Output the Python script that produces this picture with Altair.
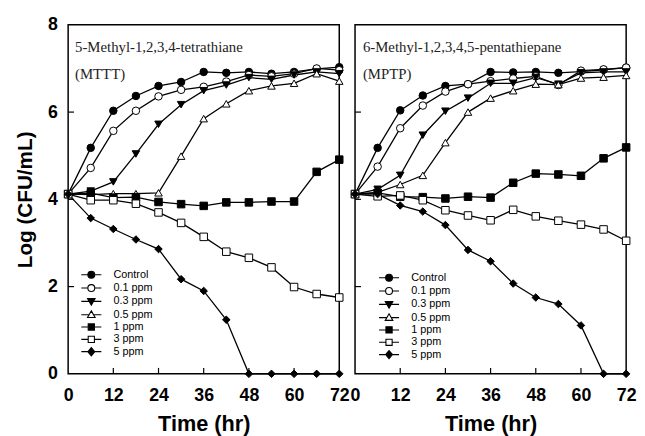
import altair as alt
import pandas as pd

times = [0, 6, 12, 18, 24, 30, 36, 42, 48, 54, 60, 66, 72]
series_names = ["Control", "0.1 ppm", "0.3 ppm", "0.5 ppm", "1 ppm", "3 ppm", "5 ppm"]

# Left panel: MTTT
mttt_control = [4.12, 5.18, 6.03, 6.37, 6.60, 6.69, 6.92, 6.90, 6.92, 6.88, 6.92, 6.99, 7.03]
mttt_01 = [4.12, 4.72, 5.57, 6.03, 6.36, 6.51, 6.58, 6.70, 6.85, 6.82, 6.88, 7.00, 6.96]
mttt_03 = [4.12, 4.19, 4.40, 5.04, 5.72, 6.17, 6.49, 6.62, 6.79, 6.75, 6.85, 6.92, 6.88]
mttt_05 = [4.12, 4.11, 4.13, 4.13, 4.15, 4.99, 5.85, 6.19, 6.49, 6.60, 6.66, 6.88, 6.71]
mttt_1 = [4.12, 4.14, 4.04, 4.05, 3.94, 3.89, 3.85, 3.93, 3.93, 3.95, 3.95, 4.63, 4.91]
mttt_3 = [4.12, 3.98, 3.98, 3.90, 3.70, 3.46, 3.14, 2.80, 2.66, 2.44, 1.99, 1.83, 1.75]
mttt_5 = [4.12, 3.57, 3.32, 3.08, 2.86, 2.17, 1.90, 1.24, 0.0, 0.0, 0.0, 0.0, 0.0]

# Right panel: MPTP
mptp_control = [4.12, 5.18, 6.04, 6.38, 6.60, 6.64, 6.92, 6.91, 6.92, 6.90, 6.93, 6.97, 7.02]
mptp_01 = [4.12, 4.75, 5.63, 6.15, 6.47, 6.64, 6.71, 6.77, 6.82, 6.62, 6.95, 6.98, 7.02]
mptp_03 = [4.12, 4.23, 4.55, 5.47, 6.02, 6.32, 6.66, 6.66, 6.79, 6.64, 6.90, 6.92, 6.92]
mptp_05 = [4.12, 4.16, 4.34, 4.55, 5.30, 6.00, 6.32, 6.49, 6.64, 6.63, 6.78, 6.80, 6.84]
mptp_1 = [4.12, 4.15, 4.06, 4.05, 4.02, 4.06, 4.04, 4.38, 4.59, 4.57, 4.54, 4.94, 5.19]
mptp_3 = [4.12, 4.07, 4.09, 3.98, 3.75, 3.63, 3.52, 3.76, 3.61, 3.51, 3.42, 3.31, 3.05]
mptp_5 = [4.12, 4.12, 3.86, 3.72, 3.41, 2.84, 2.58, 2.07, 1.75, 1.60, 1.11, 0.0, 0.0]

x_ticks = [12, 24, 36, 48, 60]
x_labels = [0, 12, 24, 36, 48, 60, 72]
y_ticks = [2, 4, 6]
y_labels = [0, 2, 4, 6, 8]

left_title = ["5-Methyl-1,2,3,4-tetrathiane", "(MTTT)"]
right_title = ["6-Methyl-1,2,3,4,5-pentathiepane", "(MPTP)"]

W, H = 275, 354
SANS = "Liberation Sans, Arial, sans-serif"
SERIF = "Liberation Serif, Times New Roman, serif"

shapes = ["circle", "circle", "triangle-down", "triangle-up", "square", "square", "diamond"]
fills = ["black", "white", "black", "white", "black", "white", "black"]
strokes = ["black"] * 7
legend_paths = [
    "M-2.9,0H-1M1,0H2.9M1,0A1,1,0,1,1,-1,0A1,1,0,1,1,1,0Z",
    "M-2.9,0H-1M1,0H2.9M1,0A1,1,0,1,1,-1,0A1,1,0,1,1,1,0Z",
    "M-2.9,0H-0.64M0.64,0H2.9M-1.1,-0.8H1.1L0,1.1Z",
    "M-2.9,0H-0.64M0.64,0H2.9M0,-1.1L1.1,0.8H-1.1Z",
    "M-2.9,0H-0.9M0.9,0H2.9M-0.9,-0.9H0.9V0.9H-0.9Z",
    "M-2.9,0H-0.9M0.9,0H2.9M-0.9,-0.9H0.9V0.9H-0.9Z",
    "M-2.9,0H-1M1,0H2.9M0,-1.2L1,0L0,1.2L-1,0Z",
]


def make_df(cols):
    rows = []
    for name, vals in zip(series_names, cols):
        for t, v in zip(times, vals):
            rows.append({"time": t, "value": v, "series": name})
    return pd.DataFrame(rows)


def panel(cols, titles, show_y, lx, ly, tx):
    df = make_df(cols)
    xaxis = alt.Axis(values=x_labels, title="Time (hr)", labelFlush=False, ticks=False,
                     domain=False, grid=False, labelFont=SANS, labelFontSize=18,
                     labelFontWeight="bold", labelColor="black", labelPadding=13,
                     titleFont=SANS, titleFontSize=22, titleFontWeight="bold",
                     titleColor="black", titlePadding=9)
    if show_y:
        yaxis = alt.Axis(values=y_labels, title="Log (CFU/mL)", ticks=False, domain=False,
                         grid=False, labelFont=SANS, labelFontSize=18, labelFontWeight="bold",
                         labelColor="black", labelPadding=11, titleFont=SANS,
                         titleFontSize=21, titleFontWeight="bold", titleColor="black",
                         titlePadding=12)
    else:
        yaxis = alt.Axis(values=y_labels, title=None, labels=False, ticks=False,
                         domain=False, grid=False)
    X = alt.X("time:Q", scale=alt.Scale(domain=[0, 72], nice=False, zero=False), axis=xaxis)
    Y = alt.Y("value:Q", scale=alt.Scale(domain=[0, 8], nice=False), axis=yaxis)

    base = alt.Chart(df)
    lines = base.mark_line(color="black", strokeWidth=1.3).encode(x=X, y=Y, detail="series:N")
    points = base.mark_point(filled=True, size=58, stroke="black", strokeWidth=1, opacity=1).encode(
        x=X, y=Y,
        shape=alt.Shape("series:N", scale=alt.Scale(domain=series_names, range=shapes), legend=None),
        fill=alt.Fill("series:N", scale=alt.Scale(domain=series_names, range=fills), legend=None),
    )
    leg = alt.Legend(orient="none", legendX=lx, legendY=ly, title=None, labelFont=SANS,
                     labelFontSize=11, labelColor="black", symbolSize=49, symbolStrokeWidth=1.1,
                     symbolOpacity=1, labelOffset=17, rowPadding=0.5, padding=0)
    legend_layer = base.mark_point(filled=True, opacity=0, strokeWidth=1).encode(
        x=X, y=Y,
        shape=alt.Shape("series:N", scale=alt.Scale(domain=series_names, range=legend_paths), legend=leg),
        fill=alt.Fill("series:N", scale=alt.Scale(domain=series_names, range=fills), legend=leg),
        stroke=alt.Stroke("series:N", scale=alt.Scale(domain=series_names, range=strokes), legend=leg),
    )
    xt = alt.Chart(pd.DataFrame({"time": x_ticks})).mark_rule(color="black", strokeWidth=1.2).encode(
        x=X, y=alt.value(H), y2=alt.value(H - 6))
    yt = alt.Chart(pd.DataFrame({"value": y_ticks})).mark_rule(color="black", strokeWidth=1.2).encode(
        y=Y, x=alt.value(0), x2=alt.value(6))
    t1 = alt.Chart(pd.DataFrame({"label": [titles[0]]})).mark_text(
        align="left", baseline="alphabetic", font=SERIF, fontSize=15, color="#222").encode(
        x=alt.value(tx), y=alt.value(27.5), text="label:N")
    t2 = alt.Chart(pd.DataFrame({"label": [titles[1]]})).mark_text(
        align="left", baseline="alphabetic", font=SERIF, fontSize=15, color="#222").encode(
        x=alt.value(tx), y=alt.value(55), text="label:N")
    return alt.layer(lines, points, legend_layer, xt, yt, t1, t2).resolve_scale(
        shape="independent", fill="independent", stroke="independent").properties(width=W, height=H)


left = panel([mttt_control, mttt_01, mttt_03, mttt_05, mttt_1, mttt_3, mttt_5],
             left_title, True, 18, 248, 7)
right = panel([mptp_control, mptp_01, mptp_03, mptp_05, mptp_1, mptp_3, mptp_5],
              right_title, False, 29, 251, 8)

chart = alt.hconcat(left, right, spacing=16, bounds="flush").resolve_scale(
    shape="independent", fill="independent", stroke="independent").resolve_legend(
    shape="independent", fill="independent", stroke="independent").properties(
    padding={"left": 6, "top": 4, "right": 0, "bottom": 0}
).configure_view(stroke="black", strokeWidth=1.5)

chart.save("out.html", embed_options={"renderer": "svg", "actions": False})
